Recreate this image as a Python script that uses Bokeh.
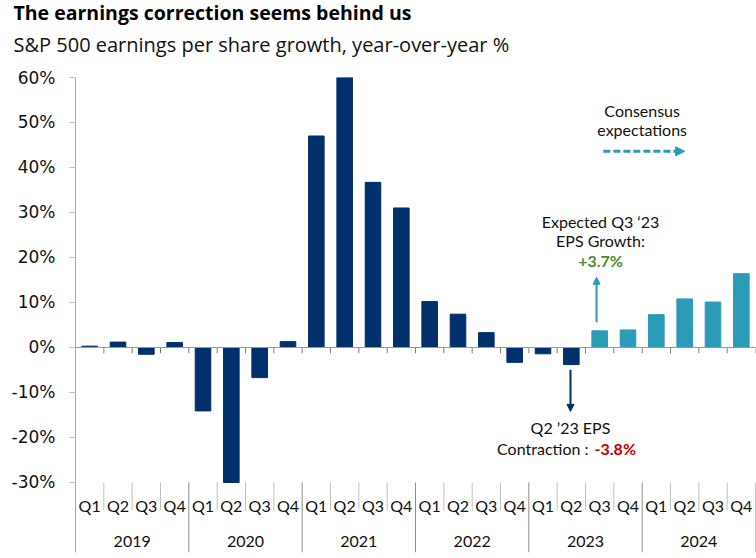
from bokeh.plotting import figure
from bokeh.models import (Range1d, FixedTicker, PrintfTickFormatter, Span, Title,
                          Arrow, NormalHead, ColumnDataSource)
from bokeh.core.properties import value
from bokeh.embed import file_html
from bokeh.resources import INLINE

# ---------------- data ----------------
years = ["2019", "2020", "2021", "2022", "2023", "2024"]
quarters = ["Q1", "Q2", "Q3", "Q4"]
eps_growth = [0.3, 1.2, -1.5, 1.1,
              -14.1, -30.0, -6.7, 1.3,
              47.0, 60.0, 36.7, 31.0,
              10.2, 7.4, 3.3, -3.3,
              -1.4, -3.8, 3.7, 3.9,
              7.3, 10.8, 10.1, 16.4]
n_actual = 18  # Q1 2019 .. Q2 2023 are actual; the rest are consensus
y_ticks = [-30, -20, -10, 0, 10, 20, 30, 40, 50, 60]

NAVY = "#00306B"
TEAL = "#2C9BB8"
GREEN = "#4E8A2E"
RED = "#C00000"
FONT = "Lato"
TFONT = "Open Sans"

n = len(eps_growth)
xs = list(range(n))
colors = [NAVY if i < n_actual else TEAL for i in xs]
src = ColumnDataSource(dict(x=xs, top=eps_growth, color=colors))

p = figure(width=756, height=558,
           x_range=Range1d(-0.5, n - 0.5), y_range=Range1d(-45.56, 60),
           x_axis_location=None, toolbar_location=None, output_backend="svg",
           min_border_left=75, min_border_right=1, min_border_top=77,
           min_border_bottom=6)
p.outline_line_color = None
p.xgrid.visible = False
p.ygrid.visible = False
p.background_fill_color = "white"
p.border_fill_color = "white"

# titles
p.add_layout(Title(text="S&P 500 earnings per share growth, year-over-year %",
                   text_font=TFONT, text_font_size="20px", text_font_style="normal",
                   text_color="#111111", align="left", offset=-62, standoff=40),
             "above")
p.add_layout(Title(text="The earnings correction seems behind us",
                   text_font=TFONT, text_font_size="19.5px", text_font_style="bold",
                   text_color="#000000", align="left", offset=-62, standoff=-35),
             "above")

# y axis
ax = p.yaxis[0]
ax.ticker = FixedTicker(ticks=y_ticks)
ax.formatter = PrintfTickFormatter(format="%d%%")
ax.major_label_text_font = "DejaVu Sans"
ax.major_label_text_font_size = "17px"
ax.major_label_text_color = "#111111"
ax.major_tick_out = 6
ax.major_tick_in = 0
ax.minor_tick_out = 0
ax.minor_tick_in = 0
ax.major_tick_line_color = "#bfbfbf"
ax.axis_line_color = "#a6a6a6"
ax.major_label_standoff = 14

# bars
p.vbar(x="x", top="top", bottom=0, width=0.55, fill_color="color",
       line_color="color", source=src)

# zero line with ticks between bars
p.add_layout(Span(location=0, dimension="width", line_color="#999999", line_width=1))
bounds = [i + 0.5 for i in xs]
p.segment(x0=bounds, y0=[0] * n, x1=bounds, y1=[-1.3] * n,
          line_color="#808080", line_width=1)

# category axis (quarters and years) drawn below -30%
y_bottom = y_ticks[0]
p.text(x=xs, y=[-35.1] * n, text=quarters * len(years),
       text_font=value(FONT), text_font_size="16px", text_color="#111111",
       text_align="center", text_baseline="middle")
year_x = [4 * j + 1.5 for j in range(len(years))]
p.text(x=year_x, y=[-43.1] * len(years), text=years,
       text_font=value(FONT), text_font_size="16px", text_color="#111111",
       text_align="center", text_baseline="middle")
q_sep = [i - 0.5 for i in xs if i % 4 != 0]
p.segment(x0=q_sep, y0=[y_bottom] * len(q_sep), x1=q_sep, y1=[-36.2] * len(q_sep),
          line_color="#c0c0c0", line_width=1)
y_sep = [4 * j - 0.5 for j in range(1, len(years) + 1)]
p.segment(x0=y_sep, y0=[y_bottom] * len(y_sep), x1=y_sep, y1=[-45.56] * len(y_sep),
          line_color="#8c8c8c", line_width=1)

# annotations
p.text(x=[19.5, 19.5], y=[52.67, 48.44], text=["Consensus", "expectations"],
       text_font=value(FONT), text_font_size="16px", text_color="#111111",
       text_align="center", text_baseline="middle")
p.add_layout(Arrow(x_start=18.13, y_start=43.6, x_end=21.0, y_end=43.6,
                   line_color=TEAL, line_width=3, line_dash="7 3",
                   end=NormalHead(size=9, fill_color=TEAL, line_color=TEAL)))

p.text(x=[18.03, 18.03], y=[28.0, 23.8], text=["Expected Q3 \u201823", "EPS Growth:"],
       text_font=value(FONT), text_font_size="16px", text_color="#111111",
       text_align="center", text_baseline="middle")
p.text(x=[18.03], y=[19.33], text=["+3.7%"],
       text_font=value(FONT), text_font_size="16px", text_font_style="bold",
       text_color=GREEN, text_align="center", text_baseline="middle")
p.add_layout(Arrow(x_start=17.89, y_start=5.6, x_end=17.89, y_end=15.6,
                   line_color=TEAL, line_width=2,
                   end=NormalHead(size=7, fill_color=TEAL, line_color=TEAL)))

p.add_layout(Arrow(x_start=16.97, y_start=-4.96, x_end=16.97, y_end=-14.2,
                   line_color=NAVY, line_width=2,
                   end=NormalHead(size=7, fill_color=NAVY, line_color=NAVY)))
p.text(x=[16.97], y=[-17.78], text=["Q2 \u201923 EPS"],
       text_font=value(FONT), text_font_size="16px", text_color="#111111",
       text_align="center", text_baseline="middle")
p.text(x=[17.75], y=[-22.4], text=["Contraction : "],
       text_font=value(FONT), text_font_size="16px", text_color="#111111",
       text_align="right", text_baseline="middle")
p.text(x=[17.82], y=[-22.4], text=["-3.8%"],
       text_font=value(FONT), text_font_size="16px", text_font_style="bold",
       text_color=RED, text_align="left", text_baseline="middle")

open("out.html", "w").write(file_html(p, INLINE))
